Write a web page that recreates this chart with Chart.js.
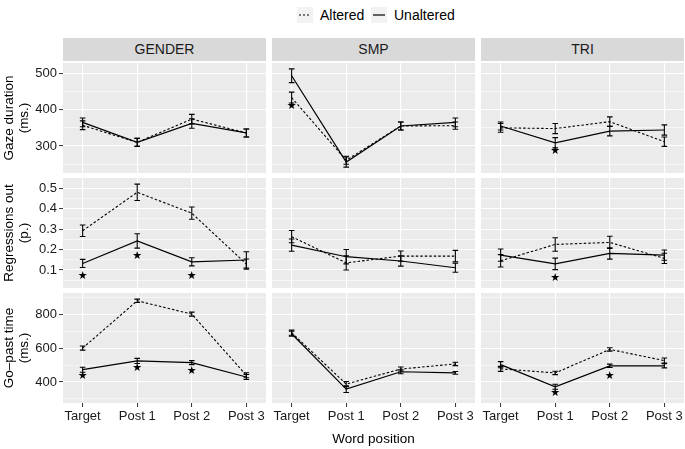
<!DOCTYPE html>
<html><head><meta charset="utf-8">
<script src="https://cdn.jsdelivr.net/npm/chart.js@4/dist/chart.umd.min.js"></script>
<style>
body{margin:0;background:#fff;}
#wrap{position:relative;width:685px;height:449px;overflow:hidden;font-family:"Liberation Sans",Arial,sans-serif;}
#wrap canvas{position:absolute;}
.strip{position:absolute;background:#D9D9D9;color:#1A1A1A;font-size:14px;text-align:center;height:23px;line-height:23px;}
.lg{position:absolute;top:7px;height:16px;font-size:14px;line-height:16px;color:#000;}
.key{position:absolute;top:7px;width:16px;height:16px;background:#F2F2F2;}
</style></head><body><div id="wrap">
<div class="key" style="left:297px"><svg width="16" height="16"><line x1="2" y1="8" x2="14" y2="8" stroke="#000" stroke-width="1.1" stroke-dasharray="2,2"/></svg></div>
<div class="lg" style="left:320px">Altered</div>
<div class="key" style="left:371px"><svg width="16" height="16"><line x1="2" y1="8" x2="14" y2="8" stroke="#000" stroke-width="1.2"/></svg></div>
<div class="lg" style="left:394px">Unaltered</div>
</div>
<script>
// ---- data ----
const categories = ['Target', 'Post 1', 'Post 2', 'Post 3'];
const conditions = ['GENDER', 'SMP', 'TRI'];
const measureTitles = [['Gaze duration', '(ms.)'], ['Regressions out', '(p.)'], ['Go\u2013past time', '(ms.)']];

// rows of each array: GENDER, SMP, TRI
const gazeAltered      = [[357, 310, 374, 336], [433, 261, 355, 356], [350, 348, 367, 312]];
const gazeAlteredErr   = [[12, 11, 13, 11], [15, 11, 11, 10], [12, 14, 13, 13]];
const gazeUnaltered    = [[365, 310, 362, 336], [493, 256, 355, 365], [355, 309, 341, 344]];
const gazeUnalteredErr = [[12, 11, 13, 11], [19, 14, 11, 12], [11, 14, 13, 14]];
const gazeStars        = [[null, null, null, null], [410, null, null, null], [null, 286, null, null]];

const regAltered      = [[0.292, 0.48, 0.378, 0.129], [0.263, 0.135, 0.168, 0.168], [0.145, 0.225, 0.235, 0.157]];
const regAlteredErr   = [[0.028, 0.04, 0.03, 0.025], [0.03, 0.035, 0.025, 0.028], [0.03, 0.033, 0.03, 0.025]];
const regUnaltered    = [[0.132, 0.242, 0.14, 0.149], [0.222, 0.165, 0.144, 0.111], [0.173, 0.13, 0.181, 0.173]];
const regUnalteredErr = [[0.02, 0.035, 0.02, 0.04], [0.03, 0.035, 0.025, 0.022], [0.03, 0.028, 0.028, 0.025]];
const regStars        = [[0.07, 0.17, 0.07, null], [null, null, null, null], [null, 0.059, null, null]];

const goAltered      = [[601, 881, 802, 440], [692, 388, 477, 507], [478, 454, 593, 527]];
const goAlteredErr   = [[12, 10, 12, 15], [15, 15, 12, 10], [15, 10, 10, 15]];
const goUnaltered    = [[473, 525, 515, 430], [686, 358, 461, 454], [503, 372, 496, 496]];
const goUnalteredErr = [[15, 15, 12, 15], [15, 20, 12, 8], [18, 15, 10, 12]];
const goStars        = [[433, 481, 462, null], [null, null, null, null], [null, 332, 433, null]];

const gazeRange = [226, 528], regRange = [0.012, 0.55], goRange = [276, 927];
const gazeTicks = [300, 400, 500], gazeMinor = [250, 350, 450];
const regTicks = [0.1, 0.2, 0.3, 0.4, 0.5], regMinor = [0.05, 0.15, 0.25, 0.35, 0.45];
const goTicks = [400, 600, 800], goMinor = [300, 500, 700, 900];

// ---- layout ----
const rowsDef = [
  {title: measureTitles[0], alt: gazeAltered, altErr: gazeAlteredErr, un: gazeUnaltered, unErr: gazeUnalteredErr, stars: gazeStars, range: gazeRange, major: gazeTicks, minor: gazeMinor},
  {title: measureTitles[1], alt: regAltered, altErr: regAlteredErr, un: regUnaltered, unErr: regUnalteredErr, stars: regStars, range: regRange, major: regTicks, minor: regMinor},
  {title: measureTitles[2], alt: goAltered, altErr: goAlteredErr, un: goUnaltered, unErr: goUnalteredErr, stars: goStars, range: goRange, major: goTicks, minor: goMinor}
];
const colLeft = [63, 272, 481], panelW = 203, rowTop = [63, 178, 293], panelH = 110;
const yAxisW = 63, xAxisH = 46;
const FONT = '"Liberation Sans", Arial, sans-serif';
Chart.defaults.font.family = FONT;

const wrap = document.getElementById('wrap');
conditions.forEach((name, c) => {
  const d = document.createElement('div');
  d.className = 'strip';
  d.style.left = colLeft[c] + 'px'; d.style.top = '38px'; d.style.width = panelW + 'px';
  d.textContent = name;
  wrap.appendChild(d);
});

const panelPlugin = {
  id: 'panel',
  beforeDraw(chart) {
    const a = chart.chartArea, ctx = chart.ctx;
    ctx.save(); ctx.fillStyle = '#EBEBEB';
    ctx.fillRect(a.left, a.top, a.right - a.left, a.bottom - a.top);
    ctx.restore();
  },
  afterDatasetsDraw(chart, args, opts) {
    const ctx = chart.ctx, xs = chart.scales.x, ys = chart.scales.y;
    ctx.save();
    ctx.strokeStyle = '#000'; ctx.lineWidth = 1.1; ctx.setLineDash([]);
    chart.data.datasets.forEach(ds => {
      ds.data.forEach((p, i) => {
        const e = ds.errors[i];
        const x = xs.getPixelForValue(p.x);
        const y1 = ys.getPixelForValue(p.y - e), y2 = ys.getPixelForValue(p.y + e);
        ctx.beginPath();
        ctx.moveTo(x, y1); ctx.lineTo(x, y2);
        ctx.moveTo(x - 2.8, y1); ctx.lineTo(x + 2.8, y1);
        ctx.moveTo(x - 2.8, y2); ctx.lineTo(x + 2.8, y2);
        ctx.stroke();
      });
    });
    ctx.fillStyle = '#000';
    ctx.font = '11px "DejaVu Sans"';
    ctx.textAlign = 'center'; ctx.textBaseline = 'middle';
    (opts.stars || []).forEach((s, i) => {
      if (s === null) return;
      ctx.fillText('\u2605', xs.getPixelForValue(i), ys.getPixelForValue(s));
    });
    ctx.restore();
  }
};

rowsDef.forEach((row, r) => {
  const allTicks = row.major.concat(row.minor).sort((a, b) => a - b);
  const isMajor = v => row.major.some(m => Math.abs(m - v) < 1e-9);
  conditions.forEach((cond, c) => {
    const isLeft = c === 0, isBottom = r === 2;
    const left = isLeft ? 0 : colLeft[c];
    const w = colLeft[c] + panelW - left;
    const h = panelH + (isBottom ? xAxisH : 0);
    const cv = document.createElement('canvas');
    cv.width = w; cv.height = h;
    cv.style.left = left + 'px'; cv.style.top = rowTop[r] + 'px';
    cv.style.width = w + 'px'; cv.style.height = h + 'px';
    wrap.appendChild(cv);
    new Chart(cv, {
      type: 'line',
      plugins: [panelPlugin],
      data: {
        datasets: [
          {label: 'Altered', data: row.alt[c].map((v, i) => ({x: i, y: v})), errors: row.altErr[c],
           borderColor: '#000', borderWidth: 1.1, borderDash: [2.5, 2], pointRadius: 0, fill: false, tension: 0},
          {label: 'Unaltered', data: row.un[c].map((v, i) => ({x: i, y: v})), errors: row.unErr[c],
           borderColor: '#000', borderWidth: 1.2, pointRadius: 0, fill: false, tension: 0}
        ]
      },
      options: {
        responsive: false, animation: false, devicePixelRatio: 1,
        layout: {padding: 0},
        events: [],
        plugins: {legend: {display: false}, tooltip: {enabled: false}, panel: {stars: row.stars[c]}},
        scales: {
          x: {
            type: 'linear', min: -0.36, max: 3.36,
            afterBuildTicks: s => { s.ticks = categories.map((_, i) => ({value: i})); },
            ticks: {display: isBottom, callback: v => categories[v], font: {size: 13}, color: '#1A1A1A', padding: 2, maxRotation: 0, autoSkip: false},
            grid: {color: '#FFFFFF', lineWidth: 1.1, drawTicks: isBottom, tickLength: 4, tickColor: '#333333', tickWidth: 1},
            border: {display: false},
            title: {display: isBottom && c === 1, text: 'Word position', font: {size: 13.5}, color: '#000', padding: {top: 0, bottom: 2}},
            afterFit: s => { s.height = isBottom ? xAxisH : 0; s.paddingLeft = 0; s.paddingRight = 0; }
          },
          y: {
            type: 'linear', min: row.range[0], max: row.range[1],
            afterBuildTicks: s => { s.ticks = allTicks.map(v => ({value: v})); },
            ticks: {display: isLeft, callback: v => isMajor(v) ? String(v) : '', font: {size: 13}, color: '#1A1A1A', padding: 2, autoSkip: false},
            grid: {color: '#FFFFFF', lineWidth: ctx => isMajor(ctx.tick.value) ? 1.1 : 0.55, drawTicks: isLeft, tickLength: 4,
                   tickColor: ctx => isMajor(ctx.tick.value) ? '#333333' : 'rgba(0,0,0,0)', tickWidth: 1},
            border: {display: false},
            title: {display: isLeft, text: row.title, font: {size: 13.5, lineHeight: 1.1}, color: '#000', padding: {top: 2, bottom: 0}},
            afterFit: s => { s.width = isLeft ? yAxisW : 0; s.paddingTop = 0; s.paddingBottom = 0; }
          }
        }
      }
    });
  });
});
</script>
</body></html>
